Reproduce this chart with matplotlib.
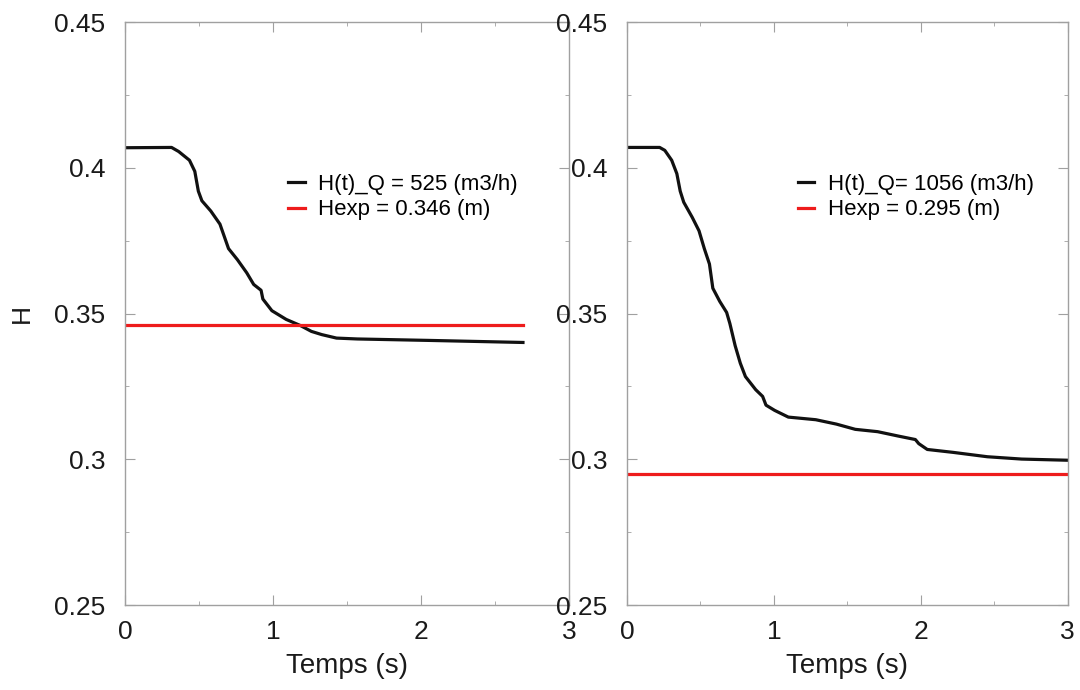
import matplotlib
matplotlib.use("Agg")
import matplotlib.pyplot as plt
from matplotlib.ticker import MultipleLocator

plt.rcParams['font.family'] = ['Liberation Sans', 'DejaVu Sans']

# -----------------------------
# Data
# -----------------------------
t_525 = [0.0, 0.315, 0.363, 0.436, 0.472, 0.496, 0.52, 0.58, 0.642, 0.70,
         0.76, 0.823, 0.87, 0.92, 0.932, 0.993, 1.09, 1.186, 1.26, 1.33,
         1.43, 1.57, 2.06, 2.69]
h_525 = [0.4069, 0.407, 0.4056, 0.4026, 0.3988, 0.392, 0.3887, 0.3852, 0.3807, 0.3723,
         0.3685, 0.364, 0.360, 0.358, 0.355, 0.351, 0.348, 0.3459, 0.3439, 0.3428,
         0.3416, 0.3413, 0.3408, 0.3401]
hexp_525 = 0.346
tend_525 = 2.69

t_1056 = [0.0, 0.222, 0.257, 0.304, 0.339, 0.362, 0.386, 0.444, 0.49, 0.526,
          0.561, 0.584, 0.631, 0.678, 0.70, 0.736, 0.771, 0.806, 0.876, 0.923,
          0.946, 1.005, 1.098, 1.285, 1.425, 1.554, 1.706, 1.846, 1.963, 1.986,
          2.044, 2.22, 2.453, 2.687, 3.0]
h_1056 = [0.407, 0.407, 0.406, 0.4026, 0.398, 0.392, 0.3882, 0.383, 0.3784, 0.3723,
          0.367, 0.3587, 0.3542, 0.3504, 0.3466, 0.339, 0.333, 0.3284, 0.3239, 0.3216,
          0.3186, 0.3168, 0.3145, 0.3136, 0.3121, 0.3103, 0.3095, 0.308, 0.3068, 0.3054,
          0.3034, 0.3024, 0.3009, 0.3001, 0.2997]
hexp_1056 = 0.295
tend_1056 = 3.0

frame_col = '#a0a0a0'


def style_axes(ax):
    ax.set_xlim(0, 3)
    ax.set_ylim(0.25, 0.45)
    ax.set_xticks([0, 1, 2, 3])
    ax.set_yticks([0.25, 0.3, 0.35, 0.4, 0.45])
    ax.set_yticklabels(['0.25', '0.3', '0.35', '0.4', '0.45'])
    ax.xaxis.set_minor_locator(MultipleLocator(0.5))
    ax.yaxis.set_minor_locator(MultipleLocator(0.025))
    ax.tick_params(which='both', direction='in', top=True, right=True,
                   color=frame_col, labelsize=19, labelcolor='#1a1a1a')
    ax.tick_params(which='major', length=7)
    ax.tick_params(axis='y', which='major', pad=14)
    ax.tick_params(axis='x', which='major', pad=11)
    ax.tick_params(which='minor', length=3)
    for sp in ax.spines.values():
        sp.set_color(frame_col)
        sp.set_linewidth(1.0)
    ax.set_xlabel('Temps (s)', fontsize=20, labelpad=6, color='#1a1a1a')


fig = plt.figure(figsize=(10.8, 6.9), dpi=100)
ax1 = fig.add_axes([0.1157, 0.123, 0.411, 0.845])
ax2 = fig.add_axes([0.5806, 0.123, 0.408, 0.845])

ax1.plot(t_525, h_525, color='#111111', linewidth=2.3, label='H(t)_Q = 525 (m3/h)')
ax1.plot([0, tend_525], [hexp_525, hexp_525], color='#ee1c1c', linewidth=2.3,
         label='Hexp = %.3f (m)' % hexp_525)
style_axes(ax1)
ax1.set_ylabel('H', fontsize=19, color='#1a1a1a')
ax1.yaxis.set_label_coords(-0.205, 0.5)
ax1.legend(loc='upper left', bbox_to_anchor=(0.322, 0.774), frameon=False,
           fontsize=16, handlelength=0.75, handletextpad=0.6, labelspacing=0.2)

ax2.plot(t_1056, h_1056, color='#111111', linewidth=2.3, label='H(t)_Q= 1056 (m3/h)')
ax2.plot([0, tend_1056], [hexp_1056, hexp_1056], color='#ee1c1c', linewidth=2.3,
         label='Hexp = %.3f (m)' % hexp_1056)
style_axes(ax2)
ax2.legend(loc='upper left', bbox_to_anchor=(0.342, 0.774), frameon=False,
           fontsize=16, handlelength=0.75, handletextpad=0.6, labelspacing=0.2)

fig.savefig('out.png', dpi=100, facecolor='white')
